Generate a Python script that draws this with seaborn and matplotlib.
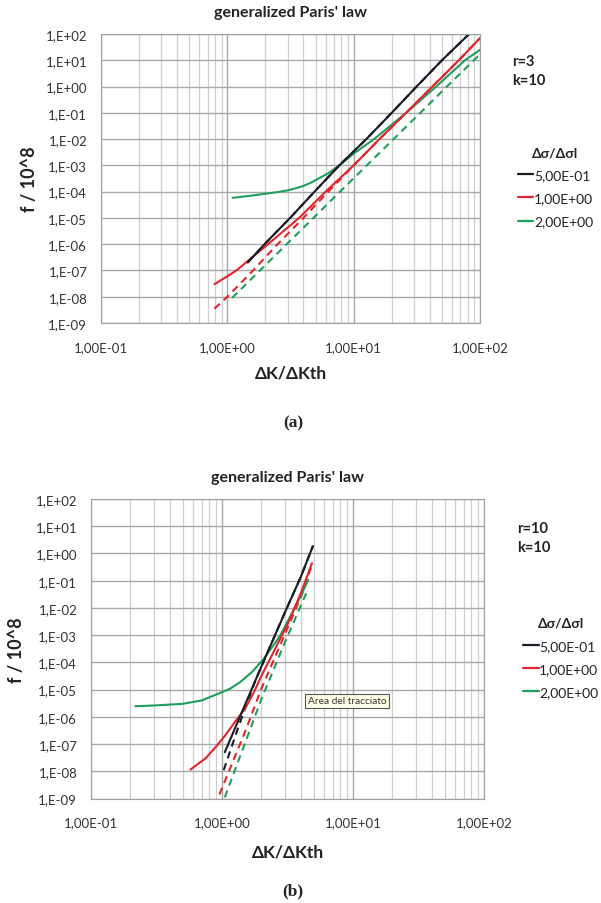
import numpy as np
import matplotlib
matplotlib.use('Agg')
import matplotlib.pyplot as plt
import seaborn as sns
from matplotlib.ticker import LogLocator, FuncFormatter, NullFormatter
from matplotlib.lines import Line2D

sns.set_style('white')
plt.rcParams['font.family'] = ['Lato', 'DejaVu Sans']

# ---- panel (a): r=3, k=10 ----
a_black_x = [1.45, 1.97, 3.14, 4.9, 7.7, 12.6, 20, 31.5, 50, 82]
a_black_y = [2e-7, 1e-6, 1e-5, 1e-4, 1e-3, 1e-2, 1e-1, 1, 10, 100]
a_red_x = [0.79, 1.0, 1.18, 1.6, 2.1, 3.7, 6.0, 10, 16, 26, 42, 68, 100]
a_red_y = [3e-8, 6e-8, 1e-7, 3.4e-7, 1e-6, 1e-5, 1e-4, 1e-3, 1e-2, 1e-1, 1, 10, 70]
a_red_dash_x = [0.79, 1.0, 1.6, 2.5, 4.0, 6.3, 10, 16, 26, 42, 68, 100]
a_red_dash_y = [3.5e-9, 1e-8, 1e-7, 1e-6, 1e-5, 1e-4, 1e-3, 1e-2, 1e-1, 1, 10, 70]
a_green_x = [1.1, 1.5, 2.0, 2.5, 3.0, 3.5, 4.0, 4.5, 5.1, 6.3, 7.7, 10, 14.5, 26, 45, 76, 100]
a_green_y = [5.8e-5, 6.9e-5, 8.3e-5, 9.6e-5, 1.12e-4, 1.35e-4, 1.65e-4, 2.1e-4, 2.9e-4,
             5e-4, 1e-3, 2.8e-3, 1e-2, 1e-1, 1, 10, 25]
a_green_dash_x = [1.09, 2.95, 4.8, 7.8, 12.7, 20.7, 33.7, 54.7, 100]
a_green_dash_y = [9e-9, 1e-6, 1e-5, 1e-4, 1e-3, 1e-2, 1e-1, 1, 17]

# ---- panel (b): r=10, k=10 ----
b_black_x = [1.05, 1.5, 2.0, 3.0, 4.0, 4.94]
b_black_y = [5.0e-8, 2.8e-6, 7.1e-5, 6.3e-3, 0.14, 1.86]
b_black_dash_x = [1.03, 1.35, 1.8, 2.0, 3.0, 4.0, 4.94]
b_black_dash_y = [1.1e-8, 5.0e-7, 2.2e-5, 7.1e-5, 6.3e-3, 0.14, 1.86]
b_red_x = [0.575, 0.65, 0.75, 0.9, 1.06, 1.25, 1.5, 1.75, 2.0, 2.4, 3.2, 4.0, 4.86]
b_red_y = [1.15e-8, 1.8e-8, 3.0e-8, 8.0e-8, 2.1e-7, 6.3e-7, 2.0e-6, 7.9e-6,
           3.2e-5, 1.8e-4, 2.8e-3, 3.5e-2, 0.44]
b_red_dash_x = [0.955, 1.5, 2.0, 3.0, 4.0, 4.8]
b_red_dash_y = [1.4e-9, 2.8e-7, 1.1e-5, 1.0e-3, 2.5e-2, 0.32]
b_green_x = [0.218, 0.3, 0.5, 0.7, 0.94, 1.15, 1.38, 1.7, 2.07, 2.4, 2.77, 3.5, 4.0, 4.55]
b_green_y = [2.45e-6, 2.6e-6, 3.0e-6, 4.0e-6, 7.1e-6, 1.07e-5, 1.9e-5, 4.5e-5,
             1.3e-4, 3.5e-4, 9.3e-4, 7.9e-3, 2.8e-2, 0.107]
b_green_dash_x = [1.05, 1.5, 2.0, 3.0, 4.5]
b_green_dash_y = [1.1e-9, 1.1e-7, 4.5e-6, 5.0e-4, 4.5e-2]

ratio_labels = ['5,00E-01', '1,00E+00', '2,00E+00']
BLACK, RED, GREEN = '#1c1c28', '#e0252b', '#1f9e5c'
colors = [BLACK, RED, GREEN]
DASH = (0, (3.5, 2.5))


def fmt_y(v, pos):
    return f"1,E{int(round(np.log10(v))):+03d}"


def fmt_x(v, pos):
    return f"1,00E{int(round(np.log10(v))):+03d}"


def draw_panel(ax, series, r_txt, k_txt, legend_xy, ylab_x, xlab_y):
    for x, y, c, dashed in series:
        sns.lineplot(x=x, y=y, ax=ax, color=c, linewidth=1.5, sort=False,
                     linestyle=DASH if dashed else '-')
    ax.set_xscale('log')
    ax.set_yscale('log')
    ax.set_xlim(0.1, 100)
    ax.set_ylim(1e-9, 100)
    ax.xaxis.set_major_locator(LogLocator(base=10, numticks=10))
    ax.xaxis.set_minor_locator(LogLocator(base=10, subs=np.arange(2, 10), numticks=20))
    ax.xaxis.set_minor_formatter(NullFormatter())
    ax.yaxis.set_major_locator(LogLocator(base=10, numticks=20))
    ax.yaxis.set_minor_locator(LogLocator(base=10, subs=[], numticks=20))
    ax.xaxis.set_major_formatter(FuncFormatter(fmt_x))
    ax.yaxis.set_major_formatter(FuncFormatter(fmt_y))
    ax.grid(which='major', axis='both', color='#a8a8a8', linewidth=1.0)
    ax.grid(which='minor', axis='x', color='#cfcfcf', linewidth=0.9)
    ax.set_axisbelow(True)
    for s in ax.spines.values():
        s.set_color('#a0a0a0')
    ax.tick_params(which='both', length=0, labelsize=9.5, labelcolor='#333333')
    ax.tick_params(axis='x', pad=13)
    ax.tick_params(axis='y', pad=10)
    ax.set_xlabel('ΔK/ΔKth', fontsize=12.5, fontweight='bold', color='#222222')
    ax.set_ylabel('f / 10^8', fontsize=13, fontweight='bold', color='#222222')
    ax.xaxis.set_label_coords(0.5, xlab_y)
    ax.yaxis.set_label_coords(ylab_x, 0.5)
    ax.set_title("generalized Paris' law", fontsize=11.5, fontweight='bold',
                 color='#222222', pad=13)
    ax.text(1.084, r_txt[1], r_txt[0], transform=ax.transAxes, fontsize=10.5,
            fontweight='bold', va='center', ha='left', color='#222222')
    ax.text(1.084, k_txt[1], k_txt[0], transform=ax.transAxes, fontsize=10.5,
            fontweight='bold', va='center', ha='left', color='#222222')
    handles = [Line2D([], [], color=c, linewidth=1.6) for c in colors]
    leg = ax.legend(handles, ratio_labels, title='Δσ/Δσl', loc='upper left',
                    bbox_to_anchor=legend_xy, frameon=False, fontsize=10,
                    handlelength=1.1, handletextpad=0.05, labelspacing=0.8,
                    borderpad=0, borderaxespad=0,
                    title_fontproperties={'weight': 'bold', 'size': 10})
    for t in leg.get_texts():
        t.set_color('#222222')


fig = plt.figure(figsize=(6.01, 9.04), dpi=100)
ax_a = fig.add_axes([101 / 601, 1 - 324 / 904, 379 / 601, 289 / 904])
ax_b = fig.add_axes([91 / 601, 1 - 799.5 / 904, 393 / 601, 299.5 / 904])

series_a = [
    (a_red_dash_x, a_red_dash_y, RED, True),
    (a_green_dash_x, a_green_dash_y, GREEN, True),
    (a_green_x, a_green_y, GREEN, False),
    (a_red_x, a_red_y, RED, False),
    (a_black_x, a_black_y, BLACK, True),
    (a_black_x, a_black_y, BLACK, False),
]
series_b = [
    (b_green_dash_x, b_green_dash_y, GREEN, True),
    (b_red_dash_x, b_red_dash_y, RED, True),
    (b_black_dash_x, b_black_dash_y, BLACK, True),
    (b_green_x, b_green_y, GREEN, False),
    (b_red_x, b_red_y, RED, False),
    (b_black_x, b_black_y, BLACK, False),
]

draw_panel(ax_a, series_a, ('r=3', 0.907), ('k=10', 0.841), (1.10, 0.612),
           -0.166, -0.145)
draw_panel(ax_b, series_b, ('r=10', 0.903), ('k=10', 0.840), (1.10, 0.607),
           -0.168, -0.149)

ax_b.text(0.551, 0.327, 'Area del tracciato', transform=ax_b.transAxes,
          fontsize=7.3, ha='left', va='center', color='#333333',
          bbox=dict(boxstyle='square,pad=0.25', facecolor='#ffffe6',
                    edgecolor='#555555', linewidth=0.8))

fig.text(293 / 601, 1 - 423 / 904, '(a)', ha='center', va='center',
         fontsize=12.5, fontweight='bold', family='Liberation Serif')
fig.text(293 / 601, 1 - 891 / 904, '(b)', ha='center', va='center',
         fontsize=12.5, fontweight='bold', family='Liberation Serif')

fig.savefig('out.png', dpi=100)
